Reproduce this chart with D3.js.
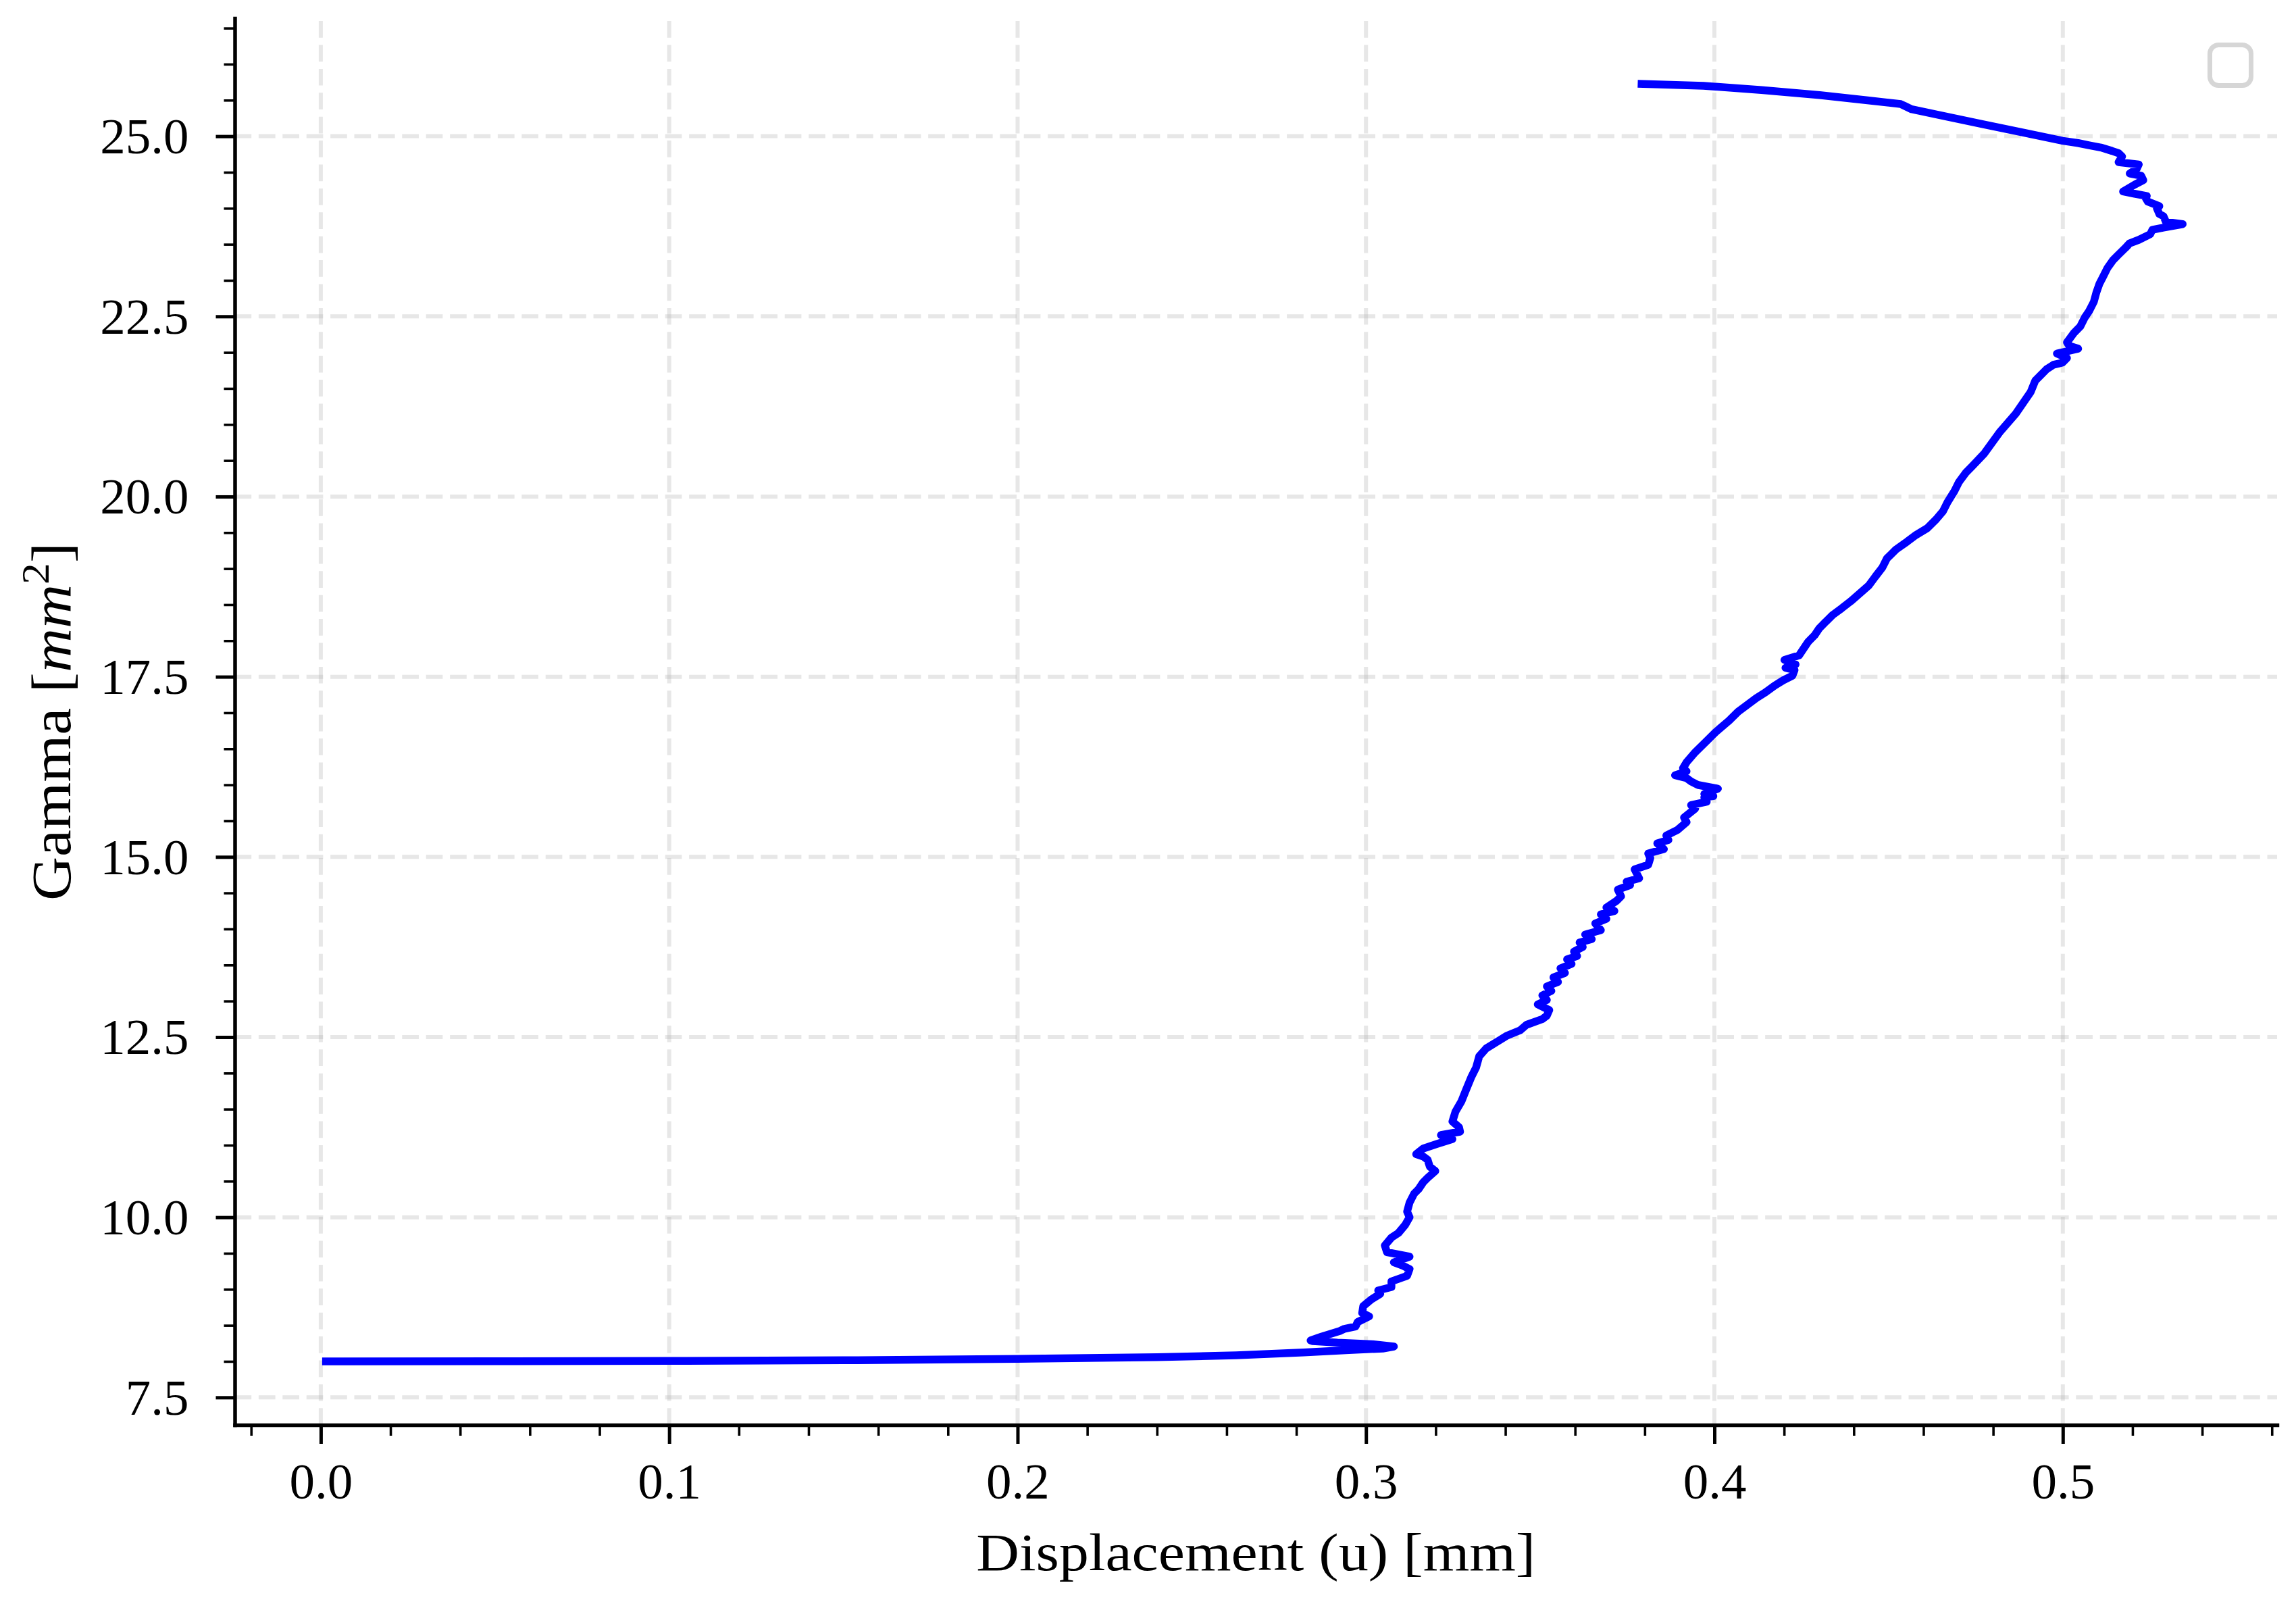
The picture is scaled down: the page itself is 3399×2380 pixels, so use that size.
<!DOCTYPE html>
<html>
<head>
<meta charset="utf-8">
<script src="https://cdn.jsdelivr.net/npm/d3@7"></script>
<style>
  html, body { margin: 0; padding: 0; background: #ffffff; }
  svg { display: block; }
  text { font-family: "Liberation Serif", "DejaVu Serif", serif; fill: #000; }
</style>
</head>
<body>
<svg id="chart" width="3399" height="2380"></svg>
<script>
// ---------------- DATA ----------------
const displacement = [
  0.0015, 0.05, 0.10, 0.15, 0.20, 0.24, 0.2627, 0.2821, 0.2951, 0.3048, 0.3080,
  0.3015, 0.2918, 0.2847, 0.2841, 0.2873, 0.2925, 0.2938, 0.2970, 0.2976, 0.3009,
  0.2989, 0.2992, 0.3015, 0.3041, 0.3035, 0.3073, 0.3073, 0.3118, 0.3125, 0.3106,
  0.3080, 0.3125, 0.3060, 0.3054, 0.3073, 0.3093, 0.3112, 0.3125, 0.3118, 0.3125,
  0.3138, 0.3151, 0.3164, 0.3177, 0.3199, 0.3183, 0.3177, 0.3164, 0.3144, 0.3164,
  0.3203, 0.3248, 0.3215, 0.3270, 0.3267, 0.3248, 0.3257, 0.3274, 0.3287, 0.3303,
  0.3316, 0.3325, 0.3345, 0.3377, 0.3403, 0.3442, 0.3461, 0.3506, 0.3519, 0.3526,
  0.3493, 0.3519, 0.3506, 0.3532, 0.3519, 0.3551, 0.3538, 0.3571, 0.3558, 0.3590,
  0.3577, 0.3606, 0.3597, 0.3622, 0.3613, 0.3648, 0.3629, 0.3674, 0.3658, 0.3690,
  0.3674, 0.3713, 0.3690, 0.3719, 0.3732, 0.3723, 0.3758, 0.3748, 0.3784, 0.3771,
  0.3810, 0.3816, 0.3810, 0.3855, 0.3836, 0.3868, 0.3862, 0.3894, 0.3920, 0.3913,
  0.3945, 0.3933, 0.3978, 0.3971, 0.3997, 0.3971, 0.4010, 0.3952, 0.3933, 0.3920,
  0.3887, 0.3920, 0.3910, 0.3920, 0.3945, 0.3978, 0.4004, 0.4042, 0.4068, 0.4094,
  0.4120, 0.4146, 0.4172, 0.4198, 0.4224, 0.4230, 0.4204, 0.4233, 0.4201, 0.4243,
  0.4256, 0.4269, 0.4288, 0.4301, 0.4320, 0.4340, 0.4366, 0.4391, 0.4417, 0.4443,
  0.4462, 0.4482, 0.4495, 0.4521, 0.4553, 0.4579, 0.4611, 0.4637, 0.4656, 0.4669,
  0.4689, 0.4702, 0.4721, 0.4740, 0.4775, 0.4820, 0.4865, 0.4908, 0.4921, 0.4934,
  0.4953, 0.4973, 0.4999, 0.5012, 0.4983, 0.5044, 0.5018, 0.5012, 0.5031, 0.5050,
  0.5063, 0.5076, 0.5089, 0.5096, 0.5105, 0.5115, 0.5128, 0.5144, 0.5160, 0.5180,
  0.5192, 0.5218, 0.5251, 0.5257, 0.5289, 0.5344, 0.5296, 0.5289, 0.5277, 0.5270,
  0.5277, 0.5244, 0.5238, 0.5241, 0.5206, 0.5173, 0.5206, 0.5231, 0.5225, 0.5192,
  0.5212, 0.5218, 0.5160, 0.5170, 0.5160, 0.5141, 0.5109, 0.5076, 0.5044, 0.4999,
  0.4895, 0.4766, 0.4637, 0.4566, 0.4546, 0.4535, 0.4435, 0.4302,
  0.4135, 0.3969, 0.3791
];
const gamma = [
  8.000, 8.002, 8.006, 8.015, 8.035, 8.058, 8.084, 8.124, 8.156, 8.178, 8.206,
  8.240, 8.259, 8.281, 8.290, 8.344, 8.422, 8.452, 8.484, 8.546, 8.625,
  8.672, 8.766, 8.859, 8.937, 8.984, 9.031, 9.109, 9.187, 9.281, 9.328,
  9.375, 9.453, 9.516, 9.609, 9.718, 9.781, 9.891, 10.000, 10.078, 10.203,
  10.327, 10.390, 10.484, 10.547, 10.641, 10.703, 10.796, 10.843, 10.875, 10.953,
  11.016, 11.084, 11.140, 11.187, 11.250, 11.328, 11.468, 11.609, 11.766, 11.953,
  12.078, 12.234, 12.343, 12.437, 12.516, 12.593, 12.671, 12.750, 12.797, 12.875,
  12.953, 13.015, 13.078, 13.140, 13.203, 13.265, 13.328, 13.390, 13.453, 13.515,
  13.578, 13.625, 13.687, 13.749, 13.812, 13.859, 13.922, 13.984, 14.077, 14.140,
  14.203, 14.250, 14.297, 14.390, 14.452, 14.546, 14.609, 14.656, 14.703, 14.827,
  14.890, 14.984, 15.047, 15.108, 15.187, 15.234, 15.296, 15.375, 15.483, 15.546,
  15.671, 15.718, 15.765, 15.827, 15.843, 15.874, 15.947, 15.999, 16.046, 16.093,
  16.134, 16.187, 16.234, 16.312, 16.453, 16.609, 16.734, 16.890, 17.015, 17.109,
  17.203, 17.281, 17.374, 17.452, 17.515, 17.593, 17.624, 17.671, 17.733, 17.796,
  17.890, 17.984, 18.078, 18.171, 18.265, 18.359, 18.452, 18.546, 18.656, 18.765,
  18.890, 19.015, 19.140, 19.265, 19.374, 19.468, 19.561, 19.687, 19.796, 19.921,
  20.077, 20.203, 20.327, 20.421, 20.600, 20.900, 21.150, 21.453, 21.609, 21.671,
  21.765, 21.828, 21.858, 21.921, 21.984, 22.052, 22.093, 22.140, 22.265, 22.359,
  22.484, 22.578, 22.702, 22.827, 22.952, 23.046, 23.171, 23.280, 23.358, 23.452,
  23.515, 23.562, 23.640, 23.702, 23.733, 23.780, 23.812, 23.890, 23.921, 24.000,
  24.030, 24.093, 24.140, 24.171, 24.202, 24.233, 24.327, 24.390, 24.452, 24.483,
  24.546, 24.608, 24.640, 24.718, 24.765, 24.796, 24.843, 24.874, 24.905, 24.937,
  25.042, 25.172, 25.302, 25.374, 25.420, 25.446, 25.500, 25.570,
  25.640, 25.700, 25.725
];
const xTicks = [0.0, 0.1, 0.2, 0.3, 0.4, 0.5];
const xTickLabels = ["0.0", "0.1", "0.2", "0.3", "0.4", "0.5"];
const yTicks = [7.5, 10.0, 12.5, 15.0, 17.5, 20.0, 22.5, 25.0];
const yTickLabels = ["7.5", "10.0", "12.5", "15.0", "17.5", "20.0", "22.5", "25.0"];
const xMinorTicks = d3.range(-0.02, 0.5601, 0.02).map(v => +v.toFixed(2));
const yMinorTicks = d3.range(7.5, 26.51, 0.5).map(v => +v.toFixed(1));
const xLabel = "Displacement (u) [mm]";

// ---------------- LAYOUT ----------------
const L = 347.5, R = 3371, T = 27, B = 2109;
const svg = d3.select("#chart");

const x = d3.scaleLinear().domain([-0.0247, 0.5615]).range([L, R]);
const y = d3.scaleLinear().domain([7.1185, 26.637]).range([B, T]);

// grid
const grid = svg.append("g");
grid.selectAll("line.gx").data(xTicks).join("line")
  .attr("x1", d => x(d)).attr("x2", d => x(d))
  .attr("y1", B).attr("y2", T)
  .attr("stroke", "#b0b0b0").attr("stroke-opacity", 0.3)
  .attr("stroke-width", 6).attr("stroke-dasharray", "24.7,10.7");
grid.selectAll("line.gy").data(yTicks).join("line")
  .attr("x1", L).attr("x2", R)
  .attr("y1", d => y(d)).attr("y2", d => y(d))
  .attr("stroke", "#b0b0b0").attr("stroke-opacity", 0.3)
  .attr("stroke-width", 6).attr("stroke-dasharray", "24.7,10.7");

// data line
const pts = displacement.map((d, i) => [d, gamma[i]]);
svg.append("path")
  .datum(pts)
  .attr("d", d3.line().x(d => x(d[0])).y(d => y(d[1])).curve(d3.curveLinear))
  .attr("fill", "none")
  .attr("stroke", "#0000ff")
  .attr("stroke-width", 11.5)
  .attr("stroke-linejoin", "round")
  .attr("stroke-linecap", "square");

// axes
const xMinor = svg.append("g").attr("transform", `translate(0,${B})`)
  .call(d3.axisBottom(x).tickValues(xMinorTicks).tickSize(16).tickFormat("").tickSizeOuter(0));
xMinor.select(".domain").remove();
xMinor.selectAll(".tick line").attr("stroke", "#000").attr("stroke-width", 3.6);

const yMinor = svg.append("g").attr("transform", `translate(${L},0)`)
  .call(d3.axisLeft(y).tickValues(yMinorTicks).tickSize(16).tickFormat("").tickSizeOuter(0));
yMinor.select(".domain").remove();
yMinor.selectAll(".tick line").attr("stroke", "#000").attr("stroke-width", 3.6);

const xAxis = svg.append("g").attr("transform", `translate(0,${B})`)
  .call(d3.axisBottom(x).tickValues(xTicks).tickSize(28).tickPadding(28)
    .tickFormat((d, i) => xTickLabels[i]).tickSizeOuter(0));
xAxis.select(".domain").attr("stroke", "#000").attr("stroke-width", 5.5).attr("stroke-linecap", "square");
xAxis.selectAll(".tick line").attr("stroke", "#000").attr("stroke-width", 5);
xAxis.selectAll(".tick text").attr("font-size", 75).attr("font-family", "Liberation Serif").attr("dy", "0.71em").attr("fill", "#000");

const yAxis = svg.append("g").attr("transform", `translate(${L},0)`)
  .call(d3.axisLeft(y).tickValues(yTicks).tickSize(28).tickPadding(40)
    .tickFormat((d, i) => yTickLabels[i]).tickSizeOuter(0));
yAxis.select(".domain").attr("stroke", "#000").attr("stroke-width", 5.5).attr("stroke-linecap", "square");
yAxis.selectAll(".tick line").attr("stroke", "#000").attr("stroke-width", 5);
yAxis.selectAll(".tick text").attr("font-size", 75).attr("font-family", "Liberation Serif").attr("dy", "0.33em").attr("fill", "#000");

// axis labels
svg.append("text")
  .attr("x", (L + R) / 2).attr("y", 2324)
  .attr("text-anchor", "middle").attr("font-size", 78)
  .attr("textLength", 828).attr("lengthAdjust", "spacingAndGlyphs")
  .text(xLabel);

const yl = svg.append("text")
  .attr("transform", `translate(104,${(T + B) / 2}) rotate(-90)`)
  .attr("text-anchor", "middle").attr("font-size", 82)
  .attr("textLength", 530).attr("lengthAdjust", "spacingAndGlyphs");
yl.append("tspan").text("Gamma [");
yl.append("tspan").attr("font-style", "italic").text("mm");
yl.append("tspan").attr("font-size", 58).attr("dy", -32).text("2");
yl.append("tspan").attr("dy", 32).text("]");

// empty legend frame
svg.append("rect")
  .attr("x", 3271.5).attr("y", 66.5).attr("width", 61).attr("height", 60)
  .attr("rx", 13).attr("ry", 13)
  .attr("fill", "#ffffff").attr("fill-opacity", 0.8)
  .attr("stroke", "#d6d6d6").attr("stroke-width", 7);
</script>
</body>
</html>
